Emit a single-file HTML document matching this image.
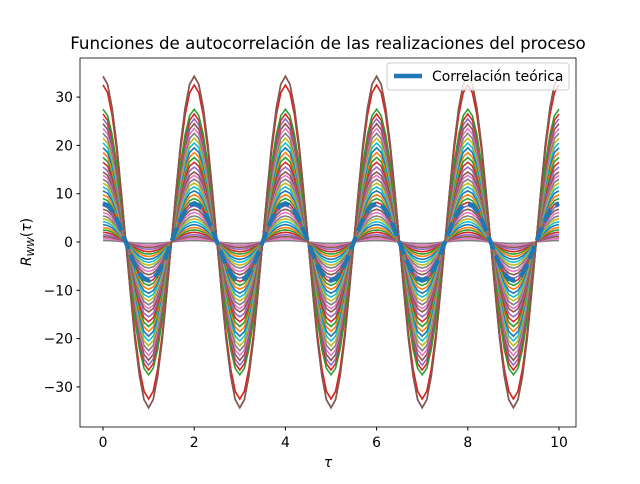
<!DOCTYPE html>
<html><head><meta charset="utf-8"><style>
body{margin:0;background:#fff;font-family:"DejaVu Sans","Liberation Sans",sans-serif}
</style></head><body>
<svg id="c" width="640" height="480" xmlns="http://www.w3.org/2000/svg" style="font-family:'DejaVu Sans',sans-serif"></svg>
<script>
const amplitudes=[34.3,32.5,27.5,26.5,25.5,24.5,23.5,22.5,21.5,20.5,19.5,18.5,17.5,16.5,15.5,14.5,13.8,13,12.2,11.4,10.6,9.8,9,8.2,7.5,6.8,6.1,5.4,4.8,4.2,3.6,3,2.5,2,1.5,1.1,0.7,0.3];
const theoryAmp=[8];
const xTicks=[0,2,4,6,8,10];
const yTicks=[-30,-20,-10,0,10,20,30];
const colors=["#1f77b4","#ff7f0e","#2ca02c","#d62728","#9467bd","#8c564b","#e377c2","#7f7f7f","#bcbd22","#17becf"];
const NS="http://www.w3.org/2000/svg",svg=document.getElementById('c');
const L=80,R=576,T=58,B=427;
const xs=v=>103+v*45.6, ys=v=>242-v*4.83;
function el(t,a,p){const e=document.createElementNS(NS,t);for(const k in a)e.setAttribute(k,a[k]);(p||svg).appendChild(e);return e;}
const taus=[];for(let i=0;i<=100;i++)taus.push(i/10);
function path(A){return taus.map((t,i)=>(i?'L':'M')+xs(t).toFixed(1)+','+ys(A*Math.cos(Math.PI*t)).toFixed(1)).join('');}
amplitudes.slice().reverse().forEach((A,i)=>{
 const p=el('path',{d:path(A),stroke:colors[(amplitudes.length-1-i)%10],'stroke-width':1.6,fill:'none'});
 
 
});
[1,0].forEach(k=>{const p=el('path',{d:path(amplitudes[k]),stroke:k?'#d62728':'#8c564b','stroke-width':1.6,fill:'none'});
 
 });
const th=el('path',{d:path(theoryAmp[0]),stroke:'#1f77b4','stroke-width':4.5,fill:'none','stroke-dasharray':'14,6'});


const fr=el('rect',{x:L,y:T,width:R-L,height:B-T,fill:'none',stroke:'#000','stroke-width':0.8});


xTicks.forEach(v=>{el('line',{x1:xs(v),x2:xs(v),y1:B,y2:B+3.5,stroke:'#000'});
 const t=el('text',{x:xs(v),y:B+20,'text-anchor':'middle','font-size':13.9});t.textContent=v;
 
 });
yTicks.forEach(v=>{el('line',{x1:L-3.5,x2:L,y1:ys(v),y2:ys(v),stroke:'#000'});
 const t=el('text',{x:L-7,y:ys(v)+5,'text-anchor':'end','font-size':13.9});t.textContent=v<0?'−'+(-v):v;
 
 });
</script>
<svg width="640" height="480" style="position:absolute;left:0;top:0;font-family:'DejaVu Sans',sans-serif">
<text x="328" y="49" text-anchor="middle" font-size="16.7">Funciones de autocorrelación de las realizaciones del proceso</text>
<text x="328" y="467" text-anchor="middle" font-size="13.9" font-style="italic">τ</text>
<text transform="translate(31,242) rotate(-90)" text-anchor="middle" font-size="13.9"><tspan font-style="italic">R</tspan><tspan font-size="9.7" dy="3" font-style="italic">WW</tspan><tspan dy="-3">(</tspan><tspan font-style="italic">τ</tspan>)</text>
<g>
<rect x="387" y="63" width="182" height="27" rx="3" fill="#fff" fill-opacity="0.8" stroke="#ccc"/>
<line x1="394" x2="422" y1="76" y2="76" stroke="#1f77b4" stroke-width="4.5"/>
<text x="432" y="81" font-size="13.9">Correlación teórica</text>
</g>
</svg>
</body></html>
